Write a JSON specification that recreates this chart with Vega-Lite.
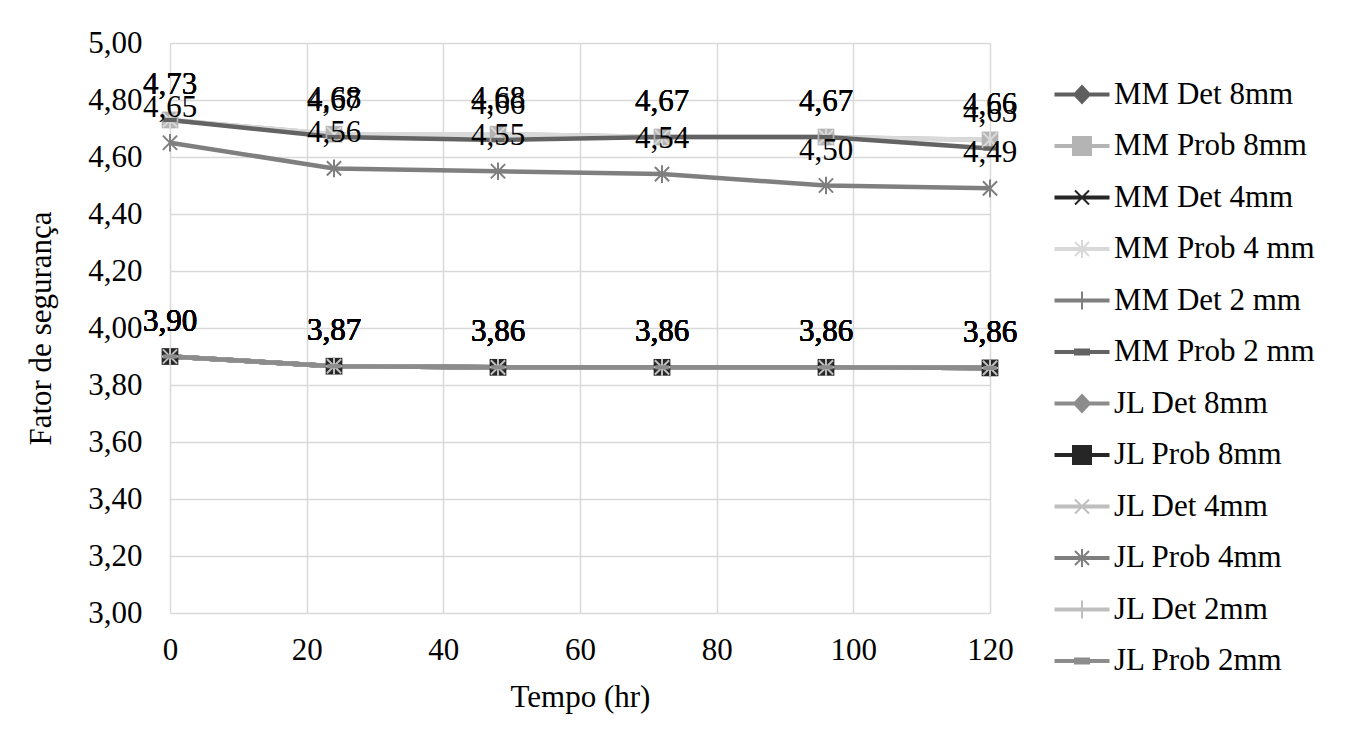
{
  "$schema": "https://vega.github.io/schema/vega-lite/v6.json",
  "width": 820,
  "height": 570,
  "autosize": {"type": "none"},
  "padding": {"left": 170, "top": 43, "right": 358, "bottom": 127},
  "background": "white",
  "config": {
    "locale": {"number": {"decimal": ",", "thousands": ".", "grouping": [3], "currency": ["", ""]}},
    "font": "Liberation Serif",
    "view": {"stroke": null},
    "axis": {
      "labelFont": "Liberation Serif", "labelFontSize": 31, "labelColor": "black",
      "titleFont": "Liberation Serif", "titleFontSize": 31, "titleFontWeight": "normal", "titleColor": "black",
      "domain": false, "ticks": false, "gridColor": "#d9d9d9", "gridWidth": 1.5, "labelOverlap": false
    }
  },
  "datasets": {"d": [
    {"series": "MM Det 8mm", "t": 0, "v": 3.90}, {"series": "MM Det 8mm", "t": 24, "v": 3.866}, {"series": "MM Det 8mm", "t": 48, "v": 3.862}, {"series": "MM Det 8mm", "t": 72, "v": 3.862}, {"series": "MM Det 8mm", "t": 96, "v": 3.862}, {"series": "MM Det 8mm", "t": 120, "v": 3.86},
    {"series": "MM Prob 8mm", "t": 0, "v": 4.73}, {"series": "MM Prob 8mm", "t": 24, "v": 4.68}, {"series": "MM Prob 8mm", "t": 48, "v": 4.68}, {"series": "MM Prob 8mm", "t": 72, "v": 4.67}, {"series": "MM Prob 8mm", "t": 96, "v": 4.67}, {"series": "MM Prob 8mm", "t": 120, "v": 4.66},
    {"series": "MM Det 4mm", "t": 0, "v": 3.90}, {"series": "MM Det 4mm", "t": 24, "v": 3.866}, {"series": "MM Det 4mm", "t": 48, "v": 3.862}, {"series": "MM Det 4mm", "t": 72, "v": 3.862}, {"series": "MM Det 4mm", "t": 96, "v": 3.862}, {"series": "MM Det 4mm", "t": 120, "v": 3.86},
    {"series": "MM Prob 4 mm", "t": 0, "v": 4.73}, {"series": "MM Prob 4 mm", "t": 24, "v": 4.68}, {"series": "MM Prob 4 mm", "t": 48, "v": 4.68}, {"series": "MM Prob 4 mm", "t": 72, "v": 4.67}, {"series": "MM Prob 4 mm", "t": 96, "v": 4.67}, {"series": "MM Prob 4 mm", "t": 120, "v": 4.66},
    {"series": "MM Det 2 mm", "t": 0, "v": 3.90}, {"series": "MM Det 2 mm", "t": 24, "v": 3.866}, {"series": "MM Det 2 mm", "t": 48, "v": 3.862}, {"series": "MM Det 2 mm", "t": 72, "v": 3.862}, {"series": "MM Det 2 mm", "t": 96, "v": 3.862}, {"series": "MM Det 2 mm", "t": 120, "v": 3.86},
    {"series": "MM Prob 2 mm", "t": 0, "v": 4.73}, {"series": "MM Prob 2 mm", "t": 24, "v": 4.67}, {"series": "MM Prob 2 mm", "t": 48, "v": 4.66}, {"series": "MM Prob 2 mm", "t": 72, "v": 4.67}, {"series": "MM Prob 2 mm", "t": 96, "v": 4.67}, {"series": "MM Prob 2 mm", "t": 120, "v": 4.63},
    {"series": "JL Det 8mm", "t": 0, "v": 3.90}, {"series": "JL Det 8mm", "t": 24, "v": 3.866}, {"series": "JL Det 8mm", "t": 48, "v": 3.862}, {"series": "JL Det 8mm", "t": 72, "v": 3.862}, {"series": "JL Det 8mm", "t": 96, "v": 3.862}, {"series": "JL Det 8mm", "t": 120, "v": 3.86},
    {"series": "JL Prob 8mm", "t": 0, "v": 3.90}, {"series": "JL Prob 8mm", "t": 24, "v": 3.866}, {"series": "JL Prob 8mm", "t": 48, "v": 3.862}, {"series": "JL Prob 8mm", "t": 72, "v": 3.862}, {"series": "JL Prob 8mm", "t": 96, "v": 3.862}, {"series": "JL Prob 8mm", "t": 120, "v": 3.86},
    {"series": "JL Det 4mm", "t": 0, "v": 3.90}, {"series": "JL Det 4mm", "t": 24, "v": 3.866}, {"series": "JL Det 4mm", "t": 48, "v": 3.862}, {"series": "JL Det 4mm", "t": 72, "v": 3.862}, {"series": "JL Det 4mm", "t": 96, "v": 3.862}, {"series": "JL Det 4mm", "t": 120, "v": 3.86},
    {"series": "JL Prob 4mm", "t": 0, "v": 4.65}, {"series": "JL Prob 4mm", "t": 24, "v": 4.56}, {"series": "JL Prob 4mm", "t": 48, "v": 4.55}, {"series": "JL Prob 4mm", "t": 72, "v": 4.54}, {"series": "JL Prob 4mm", "t": 96, "v": 4.50}, {"series": "JL Prob 4mm", "t": 120, "v": 4.49},
    {"series": "JL Det 2mm", "t": 0, "v": 3.90}, {"series": "JL Det 2mm", "t": 24, "v": 3.866}, {"series": "JL Det 2mm", "t": 48, "v": 3.862}, {"series": "JL Det 2mm", "t": 72, "v": 3.862}, {"series": "JL Det 2mm", "t": 96, "v": 3.862}, {"series": "JL Det 2mm", "t": 120, "v": 3.86},
    {"series": "JL Prob 2mm", "t": 0, "v": 3.90}, {"series": "JL Prob 2mm", "t": 24, "v": 3.866}, {"series": "JL Prob 2mm", "t": 48, "v": 3.862}, {"series": "JL Prob 2mm", "t": 72, "v": 3.862}, {"series": "JL Prob 2mm", "t": 96, "v": 3.862}, {"series": "JL Prob 2mm", "t": 120, "v": 3.86}
  ]},
  "data": {"name": "d"},
  "encoding": {
    "x": {"field": "t", "type": "quantitative", "scale": {"domain": [0, 120], "nice": false},
      "axis": {"values": [0, 20, 40, 60, 80, 100, 120], "title": "Tempo (hr)", "labelFlush": false, "labelPadding": 22, "titlePadding": 17}},
    "y": {"field": "v", "type": "quantitative", "scale": {"domain": [3, 5], "nice": false, "zero": false},
      "axis": {"values": [3, 3.2, 3.4, 3.6, 3.8, 4, 4.2, 4.4, 4.6, 4.8, 5], "format": ".2f", "title": "Fator de segurança", "labelPadding": 28, "titlePadding": 30}},
    "color": {"field": "series", "type": "nominal",
      "scale": {
        "domain": ["MM Det 8mm", "MM Prob 8mm", "MM Det 4mm", "MM Prob 4 mm", "MM Det 2 mm", "MM Prob 2 mm", "JL Det 8mm", "JL Prob 8mm", "JL Det 4mm", "JL Prob 4mm", "JL Det 2mm", "JL Prob 2mm"],
        "range": ["#5f5f5f", "#b4b4b4", "#262626", "#d9d9d9", "#7f7f7f", "#636363", "#8c8c8c", "#262626", "#bfbfbf", "#7f7f7f", "#bfbfbf", "#8c8c8c"]
      },
      "legend": {
        "orient": "none", "legendX": 896.5, "legendY": 36, "title": null,
        "symbolSize": 400, "labelFontSize": 31, "labelFont": "Liberation Serif", "labelColor": "black",
        "labelLimit": 400, "labelOffset": 16.5, "rowPadding": 19.5, "symbolStrokeWidth": 2,
        "encode": {"symbols": {"update": {
          "shape": {"signal": "['M-2.65,-0.1H2.65V0.1H-2.65ZM0,-0.85L0.8,0L0,0.85L-0.8,0Z','M-2.65,-0.1H2.65V0.1H-2.65ZM-0.9,-0.9H0.9V0.9H-0.9Z','M-2.65,-0.1H2.65V0.1H-2.65ZM-0.7,-0.7L0.7,0.7M-0.7,0.7L0.7,-0.7','M-2.65,-0.1H2.65V0.1H-2.65ZM-0.7,-0.7L0.7,0.7M-0.7,0.7L0.7,-0.7M0,-0.9V0.9','M-2.65,-0.1H2.65V0.1H-2.65ZM0,-0.9V0.9','M-2.65,-0.1H2.65V0.1H-2.65ZM-0.7,-0.25H0.7V0.25H-0.7Z','M-2.65,-0.1H2.65V0.1H-2.65ZM0,-0.85L0.8,0L0,0.85L-0.8,0Z','M-2.65,-0.1H2.65V0.1H-2.65ZM-0.9,-0.9H0.9V0.9H-0.9Z','M-2.65,-0.1H2.65V0.1H-2.65ZM-0.7,-0.7L0.7,0.7M-0.7,0.7L0.7,-0.7','M-2.65,-0.1H2.65V0.1H-2.65ZM-0.7,-0.7L0.7,0.7M-0.7,0.7L0.7,-0.7M0,-0.9V0.9','M-2.65,-0.1H2.65V0.1H-2.65ZM0,-0.9V0.9','M-2.65,-0.1H2.65V0.1H-2.65ZM-0.7,-0.25H0.7V0.25H-0.7Z'][indexof(['MM Det 8mm','MM Prob 8mm','MM Det 4mm','MM Prob 4 mm','MM Det 2 mm','MM Prob 2 mm','JL Det 8mm','JL Prob 8mm','JL Det 4mm','JL Prob 4mm','JL Det 2mm','JL Prob 2mm'], datum.value)]"},
          "fill": {"scale": "color", "field": "value"},
          "stroke": {"scale": "color", "field": "value"},
          "strokeWidth": {"value": 2},
          "opacity": {"value": 1}
        }}}
      }
    }
  },
  "layer": [
    {"mark": {"type": "line", "strokeWidth": 4.5}},
    {
      "transform": [{"filter": "indexof(['MM Det 8mm','JL Det 8mm'], datum.series) >= 0"}],
      "mark": {"type": "point", "filled": true, "size": 280, "opacity": 1, "shape": "M0,-1L1,0L0,1L-1,0Z"}
    },
    {
      "transform": [{"filter": "indexof(['MM Prob 8mm','JL Prob 8mm'], datum.series) >= 0"}],
      "mark": {"type": "point", "filled": true, "size": 280, "opacity": 1, "shape": "M-1,-1H1V1H-1Z"}
    },
    {
      "transform": [{"filter": "indexof(['MM Det 4mm','JL Det 4mm'], datum.series) >= 0"}],
      "mark": {"type": "point", "filled": false, "size": 280, "opacity": 1, "strokeWidth": 2, "shape": "M-0.85,-0.85L0.85,0.85M-0.85,0.85L0.85,-0.85"}
    },
    {
      "transform": [{"filter": "indexof(['MM Prob 4 mm','JL Prob 4mm'], datum.series) >= 0"}],
      "mark": {"type": "point", "filled": false, "size": 280, "opacity": 1, "strokeWidth": 2, "shape": "M-0.85,-0.85L0.85,0.85M-0.85,0.85L0.85,-0.85M0,-1.05V1.05"}
    },
    {
      "transform": [{"filter": "indexof(['MM Det 2 mm','JL Det 2mm'], datum.series) >= 0"}],
      "mark": {"type": "point", "filled": false, "size": 280, "opacity": 1, "strokeWidth": 2, "shape": "M0,-1V1M-1,0H1"}
    },
    {
      "transform": [{"filter": "indexof(['MM Prob 2 mm','JL Prob 2mm'], datum.series) >= 0"}],
      "mark": {"type": "point", "filled": true, "size": 280, "opacity": 1, "shape": "M-0.8,-0.25H0.8V0.25H-0.8Z"}
    },
    {
      "mark": {"type": "text", "fontSize": 31, "font": "Liberation Serif", "color": "black", "dy": -26, "baseline": "alphabetic", "align": "center"},
      "encoding": {"text": {"field": "v", "type": "quantitative", "format": ".2f"}, "color": {"value": "black"}}
    }
  ]
}
